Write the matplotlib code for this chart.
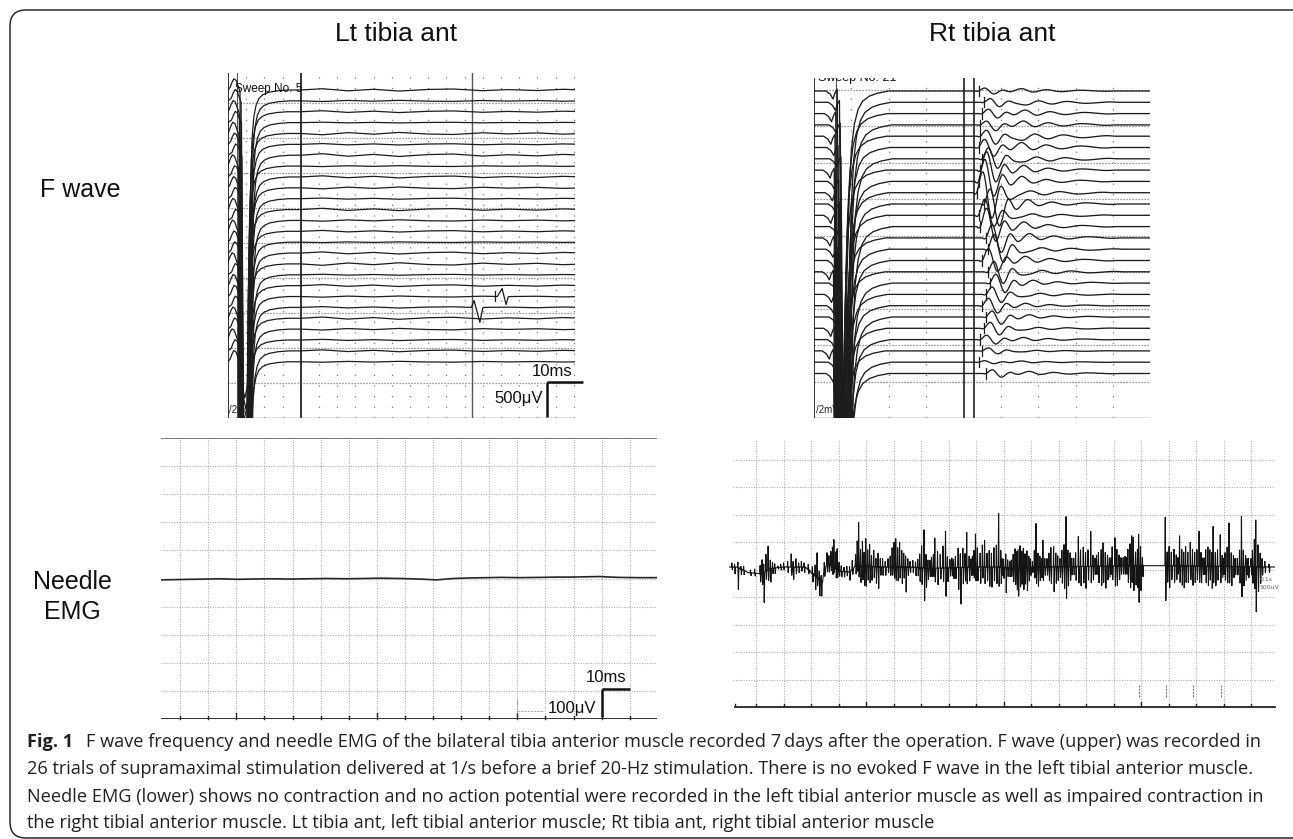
import numpy as np
import matplotlib
matplotlib.use("Agg")
import matplotlib.pyplot as plt
from matplotlib.patches import FancyBboxPatch

# ======================= DATA =======================
# ---- Upper left: F wave, Lt tibia ant (26 sweeps) ----
LT_N_SWEEPS = 26
lt_stim_ms = [0.0, 0.6, 1.1, 1.6, 2.2, 2.8, 3.3, 3.8, 4.6, 5.5, 6.0, 6.6, 7.1, 7.7, 8.5, 9.5, 11.0, 13.5, 16.5]
lt_stim_uv = [0, 40, 110, 160, 140, 50, -20, -4200, -4400, -4200, -1800, -700, -380, -220, -120, -70, -35, -12, 0]
lt_jitter_ms = [0.0, 0.3, -0.2, 0.4, -0.3, 0.1, 0.5, -0.4, 0.2, -0.1, 0.3, -0.3, 0.5,
                -0.4, 0.0, 0.2, -0.5, 0.4, -0.2, 0.1, 0.4, -0.3, 0.2, -0.5, 0.3, 0.0]
lt_wobble_ms = [20, 26, 33, 40, 47, 55, 62, 70, 77, 85, 92, 98]
lt_wobble_uv = [0, 18, -12, 10, -15, 8, 14, -10, 6, -8, 10, 0]
lt_wobble_gain = [1.0, -0.5, 0.8, 0.3, -1.0, 0.6, 1.2, -0.4, 0.9, -0.8, 0.5, 1.0, -0.6,
                  0.7, -0.3, 0.9, -1.1, 0.4, 0.8, -0.5, 0.6, 1.0, -0.7, 0.5, 0.8, -0.4]
lt_blip_sweep = [19, 20]
lt_blip1_ms = [74.0, 75.3, 76.4, 77.5]
lt_blip1_uv = [0, 115, -115, 0]
lt_blip2_ms = [66.9, 67.6, 69.2, 70.4]
lt_blip2_uv = [0, 100, -215, 0]
lt_marker_ms = 73.4

# ---- Upper right: F wave, Rt tibia ant (26 sweeps) ----
RT_N_SWEEPS = 26
rt_stim_ms = [0.0, 3.2, 4.3, 5.1, 5.6, 6.2, 6.9, 7.6, 8.3, 8.8, 9.4, 10.0, 10.8, 11.8, 13.0, 14.8, 17.0, 20.0]
rt_stim_uv = [0, 0, -40, -110, -30, 25, -4300, -4600, -4300, -2600, -1400, -800, -450, -250, -140, -70, -30, 0]
rt_jitter_ms = [0.0, 0.6, -0.4, 0.8, -0.6, 0.2, 1.0, -0.8, 0.4, -0.2, 0.6, -0.6, 1.0,
                -0.8, 0.0, 0.4, -1.0, 0.8, -0.4, 0.2, 0.8, -0.6, 0.4, -1.0, 0.6, 0.0]
rt_f_ms = [44.0, 45.5, 45.0, 44.5, 44.5, 44.0, 45.0, 44.5, 44.0, 43.5, 45.5, 44.0, 44.5,
           46.0, 46.5, 45.0, 46.5, 47.0, 46.0, 45.0, 46.0, 45.5, 44.5, 45.0, 44.0, 46.0]
rt_f_up = [40, 50, 60, 50, 80, 110, 150, 250, 300, 280, 200, 220, 250,
           180, 200, 160, 140, 120, 100, 100, 80, 80, 60, 40, 20, 50]
rt_f_dn = [40, 60, 60, 80, 110, 120, 130, 160, 200, 350, 300, 150, 200,
           200, 180, 150, 160, 130, 110, 100, 100, 90, 60, 40, 20, 50]
rt_f_tail = [30, -40, 45, 50, -60, 60, -50, 45, 45, -50, 45, -40, 45,
             45, -40, 45, -40, 30, -30, 25, 25, -25, 25, -15, 15, 25]

# ---- Lower left: needle EMG, Lt (flat) ----
emg_l_ms = [0, 5, 10, 16, 21, 27, 32, 39, 46, 52, 59, 66, 78, 85, 92, 98, 104, 110,
            116, 121, 128, 135, 141, 146, 151, 156, 160, 163, 170, 176.5]
emg_l_uv = [-5, -4, -3, -2, -1, -3, -2, -1, -2, -1, 0, -1, 1, 0, -2, -5, 0, 2,
            3, 4, 3, 4, 5, 5, 6, 7, 5, 4, 3, 3]

# ---- Lower right: needle EMG, Rt (grid divisions) ----
emg_r_base_t = [0, 0.3, 0.7, 1.2, 1.5, 2.0, 2.8, 3.0, 3.42, 3.5, 3.6, 4.05, 4.4, 4.6,
                5.6, 6.6, 7.3, 8.9, 9.95, 10.2, 11.05, 15.1, 15.8, 19.87]
emg_r_base_v = [0, 0, -0.2, -0.25, -0.05, 0, 0, -0.2, -0.55, 0.0, 0.15, -0.15, -0.18, 0.05,
                0, 0, -0.05, 0, 0, -0.05, 0, 0.05, 0.05, 0]
emg_r_t = [0.12, 0.22, 0.34, 0.45, 0.55, 0.80, 0.95,
           1.15, 1.22, 1.28, 1.36, 1.44, 1.52, 1.60, 1.80,
           2.15, 2.28, 2.35, 2.45, 2.55,
           2.90, 3.05, 3.15, 3.22, 3.30, 3.37,
           3.72, 3.78, 3.83, 3.90, 3.95, 4.02,
           4.62, 4.68, 4.73, 4.80, 4.87, 4.93, 4.99, 5.06, 5.13, 5.20, 5.28, 5.36, 5.44, 5.52,
           5.95, 6.02, 6.08, 6.15, 6.22, 6.30, 6.37, 6.44, 6.52,
           6.95, 7.02, 7.11, 7.18, 7.25,
           7.45, 7.50, 7.60, 7.70, 7.80, 7.89, 7.96,
           8.25, 8.35, 8.43, 8.52, 8.60, 8.66, 8.75,
           8.92, 8.98, 9.05, 9.15, 9.23, 9.31, 9.40, 9.48, 9.56, 9.65, 9.74, 9.82, 9.90,
           10.00, 10.08,
           10.35, 10.42, 10.48, 10.53, 10.60, 10.66, 10.72, 10.78, 10.85, 10.92, 10.98,
           11.12, 11.18, 11.25, 11.32, 11.43,
           11.65, 11.72, 11.82, 11.90, 11.97,
           12.12, 12.20, 12.27, 12.34, 12.42,
           12.62, 12.72, 12.80, 12.90, 12.98, 13.07, 13.17, 13.25,
           13.45, 13.55, 13.62, 13.70, 13.78,
           13.95, 14.05, 14.12, 14.20,
           14.52, 14.60, 14.66, 14.72, 14.80, 14.87, 14.91, 14.98, 15.05,
           15.88, 15.95, 16.02, 16.10, 16.20, 16.28,
           16.40, 16.48, 16.55, 16.62, 16.70, 16.79, 16.87, 16.95, 17.03, 17.11, 17.18,
           17.35, 17.43, 17.50, 17.57, 17.62, 17.70, 17.78, 17.88, 17.95,
           18.05, 18.13, 18.20, 18.28, 18.36,
           18.58, 18.65, 18.72, 18.80, 18.90, 19.05, 19.12, 19.17, 19.25, 19.33,
           19.50, 19.65]
emg_r_up = [0.15, 0.10, 0.20, 0.10, 0.15, 0.10, 0.15,
            0.30, 0.50, 0.30, 0.60, 0.85, 0.30, 0.20, 0.05,
            0.20, 0.48, 0.20, 0.30, 0.15,
            0.20, 0.25, 0.40, 0.90, 0.30, 0.20,
            0.50, 0.70, 1.00, 0.60, 0.75, 0.30,
            0.40, 0.90, 1.58, 0.60, 0.90, 0.50, 1.00, 0.60, 0.80, 0.40, 0.60, 0.30, 0.50, 0.30,
            0.70, 0.90, 1.03, 0.70, 0.90, 0.60, 0.50, 0.40, 0.30,
            0.50, 0.80, 1.39, 0.50, 0.30,
            0.50, 1.10, 0.60, 0.50, 0.80, 1.33, 0.40,
            0.40, 0.70, 0.50, 0.70, 0.50, 1.27, 0.40,
            0.60, 1.20, 0.70, 0.50, 0.80, 0.97, 0.50, 0.60, 0.50, 0.70, 0.80, 1.94, 0.60,
            0.30, 0.50,
            0.50, 0.70, 0.60, 0.67, 0.80, 0.60, 0.70, 0.50, 0.60, 0.40, 0.30,
            0.60, 1.58, 0.50, 0.40, 0.97,
            0.50, 0.70, 0.73, 0.50, 0.40,
            0.60, 0.80, 1.82, 0.60, 0.50,
            0.50, 1.09, 0.60, 0.70, 0.50, 0.60, 1.27, 0.40,
            0.50, 0.60, 0.85, 0.50, 0.40,
            0.70, 1.03, 0.60, 0.40,
            0.60, 0.80, 1.09, 1.03, 0.50, 0.60, 1.15, 0.70, 0.30,
            1.76, 0.50, 0.70, 0.50, 0.60, 0.40,
            1.09, 0.60, 0.50, 0.70, 0.50, 0.85, 0.60, 0.50, 0.60, 1.27, 0.50,
            0.60, 0.70, 0.60, 0.50, 1.45, 0.50, 0.60, 1.15, 0.40,
            0.50, 0.70, 1.58, 0.50, 0.40,
            0.60, 1.82, 0.60, 0.40, 0.30, 0.60, 1.00, 1.70, 0.80, 0.50,
            0.20, 0.10]
emg_r_dn = [0.10, 0.25, 0.79, 0.20, 0.15, 0.10, 0.10,
            0.30, 0.40, 1.09, 0.30, 0.40, 0.50, 0.20, 0.05,
            0.20, 0.30, 0.45, 0.25, 0.20,
            0.15, 0.30, 0.50, 0.30, 0.60, 0.55,
            0.20, 0.30, 0.20, 0.35, 0.30, 0.20,
            0.30, 0.20, 0.40, 0.60, 0.50, 0.70, 0.73, 0.50, 0.60, 0.50, 0.40, 0.60, 0.79, 0.30,
            0.30, 0.40, 0.48, 0.50, 0.40, 0.60, 0.40, 0.91, 0.30,
            0.50, 0.60, 1.19, 0.70, 0.40,
            0.30, 0.50, 0.60, 0.40, 0.50, 1.03, 0.50,
            0.40, 0.80, 1.33, 0.60, 0.50, 0.60, 0.50,
            0.40, 0.50, 0.50, 0.60, 0.40, 0.60, 0.50, 0.70, 0.73, 0.50, 0.60, 0.70, 0.60,
            0.40, 0.91,
            0.50, 0.60, 0.80, 1.03, 0.70, 0.60, 0.80, 0.60, 0.85, 0.50, 0.30,
            0.40, 0.60, 0.70, 0.50, 0.50,
            0.50, 0.60, 0.90, 0.60, 0.50,
            0.60, 0.80, 1.15, 0.70, 0.50,
            0.50, 0.60, 0.70, 0.60, 0.80, 0.50, 0.60, 0.50,
            0.60, 0.70, 0.60, 0.80, 0.50,
            0.50, 0.73, 0.70, 0.50,
            0.60, 0.80, 0.60, 0.90, 0.70, 0.80, 1.33, 0.90, 0.40,
            1.27, 0.60, 0.80, 0.50, 0.60, 0.50,
            0.60, 0.70, 0.80, 0.60, 0.60, 0.50, 0.70, 0.60, 0.50, 0.60, 0.60,
            0.60, 0.70, 0.50, 0.80, 0.60, 0.70, 0.50, 0.60, 0.40,
            0.50, 0.60, 0.60, 0.70, 0.40,
            0.60, 1.09, 0.70, 0.50, 0.40, 0.60, 0.80, 1.64, 0.90, 0.60,
            0.20, 0.20]
emg_r_small_t = [1.68, 1.90, 2.00, 2.65, 2.75, 3.48, 3.58, 3.65, 4.10, 4.20, 4.30, 4.40, 4.50,
                 5.60, 5.70, 5.80, 5.88, 6.60, 6.70, 6.80, 6.88, 7.32, 7.38, 8.05, 8.12, 8.18,
                 8.82, 8.87, 9.95, 10.15, 10.22, 10.28, 11.05, 11.38, 11.50, 11.58, 12.05,
                 12.48, 12.55, 13.32, 13.38, 13.85, 13.90, 14.27, 14.35, 14.42, 14.47, 16.34,
                 17.25, 17.30, 18.00, 18.42, 18.50, 18.85, 19.00, 19.40]
emg_r_small_up = [0.15, 0.10, 0.15, 0.20, 0.15, 0.30, 0.40, 0.30, 0.20, 0.15, 0.20, 0.20, 0.30,
                  0.30, 0.20, 0.30, 0.40, 0.20, 0.25, 0.20, 0.30, 0.30, 0.40, 0.30, 0.35, 0.30,
                  0.30, 0.40, 0.30, 0.30, 0.25, 0.30, 0.20, 0.30, 0.30, 0.30, 0.30,
                  0.30, 0.30, 0.30, 0.40, 0.30, 0.30, 0.30, 0.30, 0.35, 0.30, 0.30,
                  0.30, 0.30, 0.30, 0.30, 0.30, 0.30, 0.30, 0.30]
emg_r_small_dn = [0.20, 0.10, 0.10, 0.15, 0.20, 0.20, 0.30, 0.30, 0.20, 0.20, 0.15, 0.30, 0.20,
                  0.30, 0.30, 0.20, 0.30, 0.20, 0.20, 0.30, 0.30, 0.30, 0.30, 0.30, 0.30, 0.40,
                  0.30, 0.30, 0.30, 0.30, 0.30, 0.30, 0.20, 0.40, 0.30, 0.30, 0.40,
                  0.30, 0.30, 0.30, 0.30, 0.40, 0.30, 0.30, 0.30, 0.30, 0.30, 0.30,
                  0.30, 0.30, 0.30, 0.30, 0.30, 0.30, 0.30, 0.30]
emg_r_marks = [14.91, 15.90, 16.90, 17.90]

# caption
cap_bold = "Fig. 1"
cap_lines = [
    "F wave frequency and needle EMG of the bilateral tibia anterior muscle recorded 7\u2009days after the operation. F wave (upper) was recorded in",
    "26 trials of supramaximal stimulation delivered at 1/s before a brief 20-Hz stimulation. There is no evoked F wave in the left tibial anterior muscle.",
    "Needle EMG (lower) shows no contraction and no action potential were recorded in the left tibial anterior muscle as well as impaired contraction in",
    "the right tibial anterior muscle. Lt tibia ant, left tibial anterior muscle; Rt tibia ant, right tibial anterior muscle",
]

# ======================= FIGURE =======================
W, H = 1293, 839
fig = plt.figure(figsize=(W / 100, H / 100), dpi=100)
fig.patch.set_facecolor("white")
LABEL_FONT = ["Liberation Sans", "DejaVu Sans"]
CAP_FONT = ["Open Sans", "DejaVu Sans"]
TRACE = "#1c1c1c"
DOT = "#7a7a7a"
LGRID = "#b0b0b0"


def fx(x):
    return x / W


def fy(y):
    return 1 - y / H


def px_axes(x0, y0, x1, y1):
    ax = fig.add_axes([x0 / W, 1 - y1 / H, (x1 - x0) / W, (y1 - y0) / H], zorder=2)
    ax.set_axis_off()
    ax.patch.set_alpha(0)
    return ax


def catmull(t, v, n=6):
    """smooth curve through the given points (rendering only)"""
    P = np.column_stack([np.asarray(t, float), np.asarray(v, float)])
    P = np.vstack([P[0], P, P[-1]])
    out = []
    s = np.linspace(0, 1, n, endpoint=False)
    for i in range(1, len(P) - 2):
        p0, p1, p2, p3 = P[i - 1], P[i], P[i + 1], P[i + 2]
        for u in s:
            out.append(0.5 * ((2 * p1) + (-p0 + p2) * u + (2 * p0 - 5 * p1 + 4 * p2 - p3) * u ** 2
                              + (-p0 + 3 * p1 - 3 * p2 + p3) * u ** 3))
    out.append(P[-2])
    out = np.asarray(out)
    return out[:, 0], out[:, 1]


# outer rounded frame
bg = fig.add_axes([0, 0, 1, 1], zorder=0)
bg.set_xlim(0, W)
bg.set_ylim(H, 0)
bg.set_axis_off()
bg.add_patch(FancyBboxPatch((10, 10), 1330, 828, boxstyle="round,pad=0,rounding_size=16",
                            fill=False, ec="#2a2a2a", lw=1.1))

# headings
fig.text(fx(396), fy(34), "Lt tibia ant", ha="center", va="center", fontsize=19, family=LABEL_FONT, color="#111")
fig.text(fx(992), fy(34), "Rt tibia ant", ha="center", va="center", fontsize=19, family=LABEL_FONT, color="#111")
fig.text(fx(40), fy(190), "F wave", ha="left", va="center", fontsize=18, family=LABEL_FONT, color="#111")
fig.text(fx(72), fy(597), "Needle\nEMG", ha="center", va="center", fontsize=18, family=LABEL_FONT,
         color="#111", linespacing=1.3)


def sweep(stim_t, stim_v, shift, tail_t, tail_v):
    t = [stim_t[0]] + [s + shift for s in stim_t[1:]]
    v = list(stim_v)
    t += list(tail_t)
    v += list(tail_v)
    order = np.argsort(t, kind="stable")
    return np.asarray(t)[order], np.asarray(v, dtype=float)[order]


# ---------------- Upper left ----------------
LT_PX_MS, LT_PX_UV = 3.64, 0.07
ax = px_axes(228, 73, 575, 418)
ax.set_xlim(0, 347 / LT_PX_MS)
ax.set_ylim(0, 345 / LT_PX_UV)
for k in range(1, 20):
    if k * 5 != 20:
        ax.axvline(k * 5, color=DOT, lw=0.9, ls=(0, (1, 7.5)))
for k in range(1, 10):
    ax.axhline(500 * k, color=DOT, lw=0.9, ls=(0, (1, 1.4)))
ax.axhline(0, color="#666", lw=1.0)
ax.axvline(0, color="#333", lw=1.4)
ax.axvline(2.4, color="#555", lw=0.8)
ax.axvline(20, color="#333", lw=1.4)
ax.axvline(67.0, color="#555", lw=1.0)
lt_top, lt_gap = (418 - 90) / LT_PX_UV, 10.87 / LT_PX_UV
for i in range(LT_N_SWEEPS):
    base = lt_top - lt_gap * i
    tt = list(lt_wobble_ms)
    vv = [w * lt_wobble_gain[i] for w in lt_wobble_uv]
    if i == lt_blip_sweep[0]:
        tt += lt_blip1_ms
        vv += lt_blip1_uv
    if i == lt_blip_sweep[1]:
        tt += lt_blip2_ms
        vv += lt_blip2_uv
    t, v = sweep(lt_stim_ms, lt_stim_uv, lt_jitter_ms[i], tt, vv)
    ax.plot(t, v + base, color=TRACE, lw=0.9, solid_joinstyle="round")
    if i == lt_blip_sweep[0]:
        ax.plot([lt_marker_ms, lt_marker_ms], [base - 60, base + 80], color=TRACE, lw=0.9)
ax.text(1.9, (418 - 89) / LT_PX_UV, "Sweep No. 5", fontsize=8.5, family=LABEL_FONT, va="center", ha="left", color="#111")
ax.text(0.4, (418 - 410) / LT_PX_UV, "/2mV", fontsize=7, family=LABEL_FONT, va="center", ha="left", color="#222")
sb_x, sb_y = (547 - 228) / LT_PX_MS, (418 - 382) / LT_PX_UV
ax.plot([sb_x, sb_x + 10], [sb_y, sb_y], color="#111", lw=1.8, clip_on=False, solid_capstyle="butt")
ax.plot([sb_x, sb_x], [sb_y, sb_y - 500], color="#111", lw=1.8, clip_on=False, solid_capstyle="butt")
ax.text(sb_x + 1.5, sb_y + 40, "10ms", ha="center", va="bottom", fontsize=12, family=LABEL_FONT, color="#111")
ax.text(sb_x - 1.0, sb_y - 230, "500\u03bcV", ha="right", va="center", fontsize=12, family=LABEL_FONT, color="#111")

# ---------------- Upper right ----------------
RT_PX_MS, RT_PX_UV = 3.74, 0.073
RT_XMAX = 336 / RT_PX_MS
ax = px_axes(814, 78, 1150, 418)
ax.set_xlim(0, RT_XMAX)
ax.set_ylim(0, 340 / RT_PX_UV)
for k in range(1, 9):
    if k != 4:
        ax.axvline(k * 10, color=DOT, lw=0.9, ls=(0, (1, 7.5)))
for k in range(1, 10):
    ax.axhline(500 * k, color=DOT, lw=0.9, ls=(0, (1, 1.4)))
ax.axhline(0, color="#666", lw=1.0)
ax.axvline(0, color="#333", lw=1.4)
ax.axvline(5.9, color="#555", lw=0.8)
ax.axvline(40, color="#333", lw=1.3)
ax.axvline(42.8, color="#333", lw=1.3)
rt_top, rt_gap = (418 - 91) / RT_PX_UV, 11.3 / RT_PX_UV
F_DT = [-1.0, 0, 1.8, 4.0, 6.3, 8.6, 11.5, 14.5, 18.0, 22.0, 27.0, 33.0, 36.0]
for i in range(RT_N_SWEEPS):
    base = rt_top - rt_gap * i
    m, up, dn, tl = rt_f_ms[i], rt_f_up[i], rt_f_dn[i], rt_f_tail[i]
    fv = [0, 0, up, -dn, 0.3 * up, -0.25 * dn, 0.08 * up + tl, -0.5 * tl, 0.6 * tl, -0.3 * tl,
          0.35 * tl, -0.1 * tl, 0]
    ft, fvv = catmull([m + d for d in F_DT], fv, n=7)
    t, v = sweep(rt_stim_ms, rt_stim_uv, rt_jitter_ms[i], [], [])
    t = np.concatenate([t, ft, [RT_XMAX]])
    v = np.concatenate([v, fvv, [0]])
    ax.plot(t, v + base, color=TRACE, lw=0.95, solid_joinstyle="round")
    ax.plot([m, m], [base - 70, base + 70], color=TRACE, lw=0.9)
ax.text(1.2, (418 - 78) / RT_PX_UV, "Sweep No. 21", fontsize=9, family=LABEL_FONT, va="center", ha="left",
        color="#111", clip_on=True)
ax.text(0.6, (418 - 410) / RT_PX_UV, "/2mV", fontsize=7, family=LABEL_FONT, va="center", ha="left", color="#222")

# ---------------- Lower left ----------------
ax = px_axes(161, 438, 657, 719)
ax.set_xlim(0, 176.5)
ax.set_ylim(-500, 500)
for k in range(17):
    ax.axvline(6.8 + 10 * k, color=LGRID, lw=0.8, ls=(0, (1, 1.3)))
    h = 22 if k in (2, 7, 12) else 10
    ax.plot([6.8 + 10 * k] * 2, [-500, -500 + h], color="#222", lw=1.0, clip_on=False)
for k in range(-4, 5):
    ax.axhline(100 * k, color=LGRID, lw=0.8, ls=(0, (1, 1.3)))
ax.axhline(500, color="#555", lw=1.1)
ax.axhline(-500, color="#222", lw=1.3)
ax.plot(emg_l_ms, emg_l_uv, color="#262626", lw=1.2)
ax.plot([126.7, 126.7], [-430, -480], color="#888", lw=0.8, ls=(0, (1, 1)))
ax.plot([126.7, 136.0], [-470, -470], color="#aaa", lw=0.8, ls=(0, (2, 1)))
ax.plot([156.9, 166.9], [-393, -393], color="#111", lw=1.8, solid_capstyle="butt")
ax.plot([156.9, 156.9], [-393, -493], color="#111", lw=1.8, solid_capstyle="butt")
ax.text(158.5, -380, "10ms", ha="center", va="bottom", fontsize=12, family=LABEL_FONT, color="#111")
ax.text(155.0, -462, "100\u03bcV", ha="right", va="center", fontsize=12, family=LABEL_FONT, color="#111")

# ---------------- Lower right ----------------
ax = px_axes(728.5, 440, 1275, 707)
ax.set_xlim(0, 19.87)
ax.set_ylim(0, 9.71)
for k in range(1, 20):
    ax.axvline(k, color=LGRID, lw=0.8, ls=(0, (1, 1.3)))
    h = 0.2 if k in (5, 10, 15) else 0.1
    ax.plot([k, k], [0, h], color="#222", lw=1.0)
for k in range(1, 10):
    ax.plot([0.15, 19.87], [k, k], color=LGRID, lw=0.8, ls=(0, (1, 1.3)))
ax.plot([0.25, 19.87], [0, 0], color="#222", lw=1.3, clip_on=False)
ax.plot([0.25, 0.25], [0, 0.1], color="#222", lw=1.0)
EMG_R_LEVEL = 5.09
SPIKE_DT = [-0.012, 0.0, 0.02, 0.038]
tt = list(emg_r_base_t)
vv = list(emg_r_base_v)
for t0, u, d in zip(emg_r_t + emg_r_small_t, emg_r_up + emg_r_small_up, emg_r_dn + emg_r_small_dn):
    b = float(np.interp(t0, emg_r_base_t, emg_r_base_v))
    for dt, val in zip(SPIKE_DT, [0.0, u, -d, 0.0]):
        tt.append(t0 + dt)
        vv.append(b + val)
order = np.argsort(tt, kind="stable")
ax.plot(np.asarray(tt)[order], np.asarray(vv)[order] + EMG_R_LEVEL, color="#141414", lw=0.8)
for mk in emg_r_marks:
    ax.plot([mk, mk], [0.35, 0.8], color="#777", lw=0.8, ls=(0, (2, 1)))
ax.text(19.3, 4.62, "0.1s", fontsize=4.5, color="#666", va="center", ha="left", clip_on=False)
ax.text(19.3, 4.35, "500uV", fontsize=4.5, color="#666", va="center", ha="left", clip_on=False)

# ---------------- Caption ----------------
cap_y = [742, 769, 797, 823]
probe = fig.text(fx(27), fy(cap_y[2]), cap_lines[2], fontsize=12, family=CAP_FONT, va="center")
fig.canvas.draw()
wid = probe.get_window_extent(fig.canvas.get_renderer()).width
cap_fs = 12 * (1260 - 27) / wid
probe.remove()
fig.text(fx(27), fy(cap_y[0]), cap_bold, fontsize=cap_fs, family=CAP_FONT, weight="bold",
         va="center", color="#231f20")
fig.text(fx(86), fy(cap_y[0]), cap_lines[0], fontsize=cap_fs, family=CAP_FONT, va="center", color="#231f20")
for yy, line in zip(cap_y[1:], cap_lines[1:]):
    fig.text(fx(27), fy(yy), line, fontsize=cap_fs, family=CAP_FONT, va="center", color="#231f20")

fig.savefig("out.png", dpi=100, facecolor="white")
